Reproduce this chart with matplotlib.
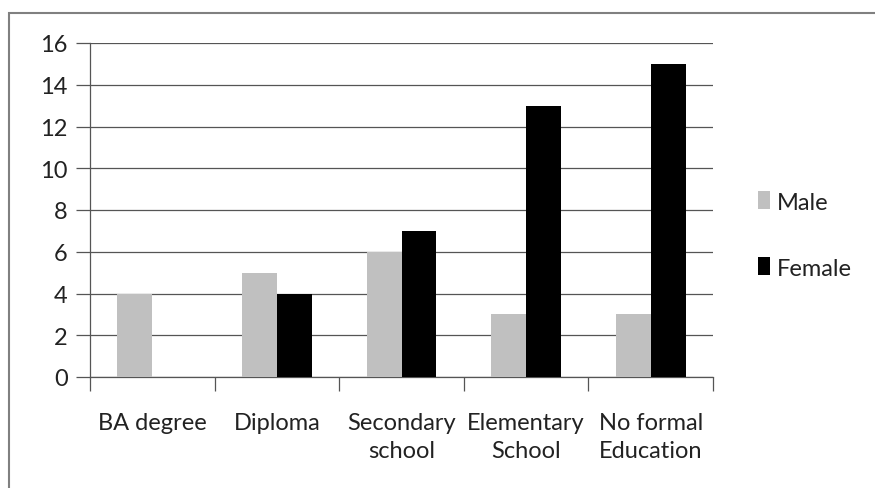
import matplotlib
matplotlib.use("Agg")
import matplotlib.pyplot as plt
import numpy as np
from matplotlib.patches import Rectangle

categories = ["BA degree", "Diploma", "Secondary\nschool", "Elementary\nSchool", "No formal\nEducation"]
male = [4, 5, 6, 3, 3]
female = [0, 4, 7, 13, 15]
yticks = [0, 2, 4, 6, 8, 10, 12, 14, 16]

plt.rcParams["font.family"] = ["Lato", "DejaVu Sans"]

W, H = 875, 489
fig = plt.figure(figsize=(W / 100, H / 100), dpi=100)
ax = fig.add_axes([90 / W, 1 - 378 / H, (713 - 90) / W, (378 - 44) / H])

# outer frame (top and left only visible)
fig.patches.append(Rectangle((9 / W, -0.1), 1.2, 1 - 14 / H + 0.1, transform=fig.transFigure,
                             fill=False, edgecolor="#808080", linewidth=1.5))

x = np.arange(len(categories))
w = 0.28
ax.bar(x - w / 2, male, w, color="#c0c0c0", label="Male", zorder=3)
ax.bar(x + w / 2, female, w, color="#000000", label="Female", zorder=3)

ax.set_xlim(-0.5, len(categories) - 0.5)
ax.set_ylim(0, 16)
ax.set_yticks(yticks)
ax.set_yticklabels([str(v) for v in yticks], fontsize=17, color="#222222")
ax.yaxis.grid(True, color="#555555", linewidth=0.9, zorder=0)
ax.tick_params(axis="y", length=10, width=0.9, color="#555555", pad=6)

ax.set_xticks(np.arange(len(categories) + 1) - 0.5, minor=False)
ax.set_xticklabels([])
ax.tick_params(axis="x", which="major", length=10, width=0.9, color="#555555", direction="out")
ax.set_xticks(x, minor=True)
ax.set_xticklabels(categories, minor=True, fontsize=17, color="#222222", linespacing=1.45, va="top")
ax.tick_params(axis="x", which="minor", length=0, pad=25)

for s in ["top", "right"]:
    ax.spines[s].set_visible(False)
for s in ["left", "bottom"]:
    ax.spines[s].set_color("#555555")
    ax.spines[s].set_linewidth(0.9)

ax.legend(loc="center left", bbox_to_anchor=(737 / W, 1 - 236 / H), bbox_transform=fig.transFigure,
          frameon=False, fontsize=17, handlelength=0.5, handleheight=0.8, handletextpad=0.3,
          labelspacing=1.9, labelcolor="#222222")

fig.savefig("out.png", dpi=100)
